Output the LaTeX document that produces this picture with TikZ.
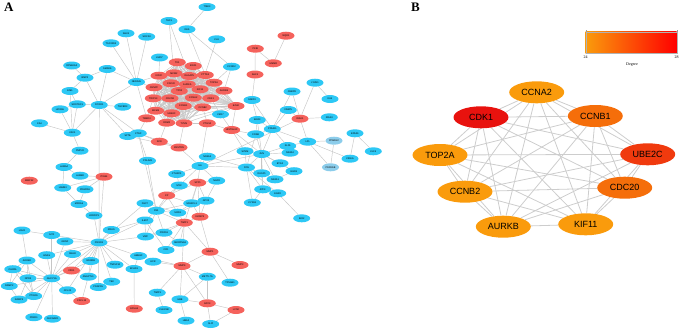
\documentclass[tikz,border=0pt]{standalone}
\usepackage{fontspec}
\setmainfont{Liberation Serif}
\setsansfont{Liberation Sans}
\usetikzlibrary{shapes.geometric, backgrounds}

\definecolor{upblue}{RGB}{45,200,245}
\definecolor{downred}{RGB}{245,98,92}
\definecolor{paleblue}{RGB}{140,205,235}
\definecolor{linkgray}{RGB}{198,198,198}
\definecolor{hubgray}{RGB}{205,205,205}
\definecolor{deg24}{RGB}{250,155,12}
\definecolor{deg26}{RGB}{245,110,10}
\definecolor{deg27}{RGB}{240,58,14}
\definecolor{deg28}{RGB}{232,18,14}

% cell-cycle core of panel A (fully meshed)
\def\corelist{TK1,EXO1,KIF2C,MCM2,DLGAP5,PTTG1,CENPF,CDC20,AURKA,TOP2A,TPX2,KIF11,AURKB,TRIP13,CDKN3,CCNA2,CDK1,MCM4,CCNB1,CCNB2,UBE2C,RRM2,TYMS,EZH2}
\def\hublist{hCCNA2,hCCNB1,hUBE2C,hCDC20,hKIF11,hAURKB,hCCNB2,hTOP2A,hCDK1}

\begin{document}
\begin{tikzpicture}[x=1pt, y=-1pt,
  gene/.style={ellipse, minimum width=17pt, minimum height=8pt, inner sep=0pt,
    font=\sffamily\fontsize{2.4}{2.4}\selectfont},
  up/.style={gene, fill=upblue},
  down/.style={gene, fill=downred},
  pale/.style={gene, fill=paleblue},
  hub/.style={ellipse, minimum width=55pt, minimum height=22pt, inner sep=0pt,
    font=\sffamily\fontsize{9}{10}\selectfont},
  link/.style={draw=linkgray, line width=0.45pt},
  hublink/.style={draw=hubgray, line width=0.8pt},
  panel/.style={font=\bfseries\fontsize{13}{13}\selectfont, anchor=north west, inner sep=0pt},
  tick/.style={font=\fontsize{4}{4}\selectfont, inner sep=0pt},
]
  \useasboundingbox (0,0) rectangle (679,330);

  \node[panel] (labA) at (4,3) {A};
  \node[panel] (labB) at (411,3) {B};

  % panel A: down-regulated genes
  \foreach \n/\x/\y in {TK1/177.3/62.3, EXO1/193.3/66, KIF2C/159/75.7, MCM2/174/73.3,
      DLGAP5/189.3/76, PTTG1/205.3/75, CENPF/154/87.3, CDC20/171/83.3,
      AURKA/187.3/84.3, TOP2A/214/82.7, TPX2/179.3/91, KIF11/200/89.3,
      AURKB/224/90.7, TRIP13/153.3/98.3, CDKN3/170/98.3, CCNA2/193.3/97.7,
      CDK1/210.7/98.3, MCM4/155.7/110.7, CCNB1/183.3/106, CCNB2/202.7/107.3,
      EZH2/236/106, UBE2C/171.7/113.3, TMED3/146.7/118.3, RRM2/166.7/122.7,
      TYMS/184/123.3, PTGS2/207.3/123.3, HIST1H4C/231.7/130, SFN/159.3/141.7,
      KNSTRN/179/147.5, SHC1/255/74.5, PKIB/255.3/48.7, HMMR/273.3/63.3,
      NQO1/286/35.7, IRAK1/300/118.7, SPP1/197.7/182.7, CP/166.7/195.5,
      IGFBP3/200/216.7, TIMP1/184.3/222.7, MMP1/210/251.7, MMP3/240/265,
      MMP9/182/266, GPC3/207.3/303.3, LCN2/236/310, ITGB4/104/176.7,
      MMP12/29.3/180.7, FZD1/71.5/270.5, CXCL13/81.7/301, EPHA4/134.3/308.7}
    \node[down] (\n) at (\x,\y) {\n};

  % panel A: up-regulated genes
  \foreach \n/\x/\y in {TNNI3/207/7, TAC1/169/21, DES/187/29.3, CLU/216.7/39.3,
      SGK1/126/33.3, SOCS3/146.7/36.7, TSC22D3/111/43.3, LMO7/159.5/57.5,
      CCND2/231.5/66.7, RPS6KA2/71.7/65.5, SMAD6/107.3/69, BMP2/85/77.7,
      NEDD4L/136.5/82, ENG/70/91, FOXO1/99.3/105, SOSTDC1/77.3/104.3,
      HOXA5/60/109.3, TGFBR3/122.7/106.7, CA4/39.5/123.3, CAV1/72.3/132.7,
      SPTB/127.7/136, CTGF/138.3/133.3, PMP22/80/150.7, CBX7/220.5/114.3,
      FABP4/252/100, CEBPD/292/91.5, LYVE1/315/82.7, KLB/330/99,
      FABP5/288.3/110, IRAK3/329.3/117.3, EGR3/257.3/120, PPARG/272.3/129,
      FOSB/255.7/134.3, LPL/307.7/141.7, EPAS1/355/133.3, KLF4/373.3/151.3,
      CIDEA/350/158.7, KLF5/287.7/146, NR4A2/290/152.7, SYNM/245/151.2,
      JUN/261.7/154, FOS/246.5/167.5, DUSP1/261.7/173.3, BTG2/280/163.3,
      EGR1/294/171.2, NR4A1/275/179.3, ATF3/262.7/189.3, EGR2/277.7/193.3,
      CYR61/252.3/202.7, IER2/301.7/218.3, NR4A3/207.3/156.7, IL6/200/166,
      CTHRC1/176.7/174, NGFR/216.7/180.7, MYC/179.3/185.5, SPARCL1/191.7/203.3,
      GPX3/206/200.7, FN1/156.3/210.8, SOD3/177.7/212.7, FGF7/145/203.3,
      IL6ST/145/220.5, VWF/145.5/236.5, PROS1/164/232.7, SERPINA3/180/242.7,
      CFD/166/250, HBEGF/138.5/256, LIFR/153/261.7, EFHD1/134/269,
      METTL7A/207.3/276.7, TPSAB1/230/282.7, TIMP3/157.3/292.7, HBB/180/299.3,
      CLEC3B/164/310, HBA2/186/320.7, SLPI/210.7/324, PDLIM3/147.5/160.8,
      LAMA4/64/167, LAMB2/80/175.7, LAMB3/62.7/187.7, PDGFRA/85/189.3,
      MXRA5/79/204, LRRFIP1/94/215.5, RRAS/111.3/230, PIK3R1/99/242.5,
      LDLR/22/230.5, IL7R/51.7/235, GDNF/65/241.5, ADRB2/27/260.5,
      GNAS/46.7/255.2, SNAI2/72.5/254, EDNRB/90.7/261, TNFSF10/115/264.7,
      GUCY1A/51.7/278.3, CHODL/12.8/269.2, NPR3/28/278.3, RAMP2/9.3/286,
      PTGDS/33.7/296, RAMP3/19/299.6, CCL21/67.5/290.3, ANGPTL1/88.3/276.7,
      PDGFRL/98.3/287, TEK/111.7/281.7, PRKD1/33.8/317.2, CACNA2D/52.5/318.7}
    \node[up] (\n) at (\x,\y) {\n};

  \foreach \n/\x/\y in {PPARGC/334/140.7, PPARGB/330.5/167.3}
    \node[pale] (\n) at (\x,\y) {\n};

  % panel B: hub genes
  \foreach \n/\x/\y/\t/\c in {hCCNA2/536.7/92.3/CCNA2/deg24, hCDK1/481/117.3/CDK1/deg28,
      hCCNB1/595.3/116/CCNB1/deg26, hTOP2A/440/155/TOP2A/deg24,
      hUBE2C/647.7/154.3/UBE2C/deg27, hCCNB2/465/191.7/CCNB2/deg24,
      hCDC20/624.7/187.7/CDC20/deg26, hAURKB/503.3/226.7/AURKB/deg24,
      hKIF11/585.7/224.3/KIF11/deg24}
    \node[hub, fill=\c] (\n) at (\x,\y) {\t};

  % degree legend
  \shade[left color=deg24, right color=red, draw=black!30, line width=0.3pt]
    (585.7,31.7) rectangle (676.7,53.3);
  \draw[black!40, line width=0.3pt] (585.7,31.7) -- (585.7,30.2);
  \draw[black!40, line width=0.3pt] (676.7,31.7) -- (676.7,30.2);
  \node[tick] (lo) at (585.7,57.5) {24};
  \node[tick] (hi) at (676.7,57.5) {28};
  \node[tick] (deg) at (632,65) {Degree};

  \begin{scope}[on background layer]
    \foreach \a [count=\i] in \corelist {
      \foreach \b [count=\j] in \corelist {
        \ifnum\i<\j \draw[link] (\a) -- (\b); \fi
      }
    }
    \foreach \a/\b in {TNNI3/DES, TAC1/DLGAP5, TAC1/MCM2, DES/PTTG1, DES/CCND2,
        CLU/KIF11, SGK1/NEDD4L, TSC22D3/NEDD4L, SOCS3/NEDD4L, LMO7/KIF2C,
        RPS6KA2/BMP2, SMAD6/BMP2, SMAD6/NEDD4L, SMAD6/FOXO1, BMP2/FOXO1, BMP2/ENG,
        ENG/SOSTDC1, ENG/CAV1, HOXA5/SOSTDC1, HOXA5/CAV1, SOSTDC1/FOXO1,
        SOSTDC1/CAV1, CA4/CAV1, CAV1/FOXO1, CAV1/PMP22, FOXO1/NEDD4L,
        FOXO1/TGFBR3, FOXO1/SPTB, FOXO1/CTGF, FOXO1/PIK3R1, NEDD4L/KIF2C,
        NEDD4L/CENPF, NEDD4L/TMED3, CTGF/SPTB, CTGF/TMED3, CTGF/SFN, CTGF/KNSTRN,
        SPTB/KNSTRN, TMED3/TRIP13, TMED3/MCM4, SFN/RRM2, KNSTRN/TYMS,
        PMP22/LAMA4, CTGF/FN1, PDLIM3/FN1, PDLIM3/CTGF,
        LAMA4/LAMB2, LAMA4/LAMB3, LAMB2/ITGB4, LAMB3/ITGB4, PDGFRA/ITGB4,
        LAMB3/MXRA5, PDGFRA/MXRA5, MXRA5/LRRFIP1, LRRFIP1/PIK3R1, ITGB4/PIK3R1,
        PIK3R1/RRAS, PIK3R1/GDNF, PIK3R1/IL7R, PIK3R1/SNAI2, PIK3R1/FZD1,
        PIK3R1/EDNRB, PIK3R1/TNFSF10, PIK3R1/ANGPTL1, PIK3R1/PDGFRL, PIK3R1/TEK,
        PIK3R1/GUCY1A, PIK3R1/EFHD1, PIK3R1/VWF, PIK3R1/HBEGF, PIK3R1/IL6ST,
        PIK3R1/FGF7, PIK3R1/GNAS, PIK3R1/CCL21, RRAS/IL6ST,
        GUCY1A/ADRB2, GUCY1A/CHODL, GUCY1A/NPR3, GUCY1A/RAMP2, GUCY1A/RAMP3,
        GUCY1A/PTGDS, GUCY1A/PRKD1, GUCY1A/CACNA2D, GUCY1A/CCL21, GUCY1A/GNAS,
        GUCY1A/SNAI2, GUCY1A/GDNF, GUCY1A/FZD1, GUCY1A/EDNRB, GUCY1A/IL7R,
        LDLR/ADRB2, LDLR/IL7R, IL7R/GDNF, ADRB2/CHODL, ADRB2/NPR3, ADRB2/RAMP2,
        ADRB2/PTGDS, CHODL/NPR3, CHODL/RAMP2, CHODL/PTGDS, NPR3/RAMP3,
        NPR3/PTGDS, RAMP2/RAMP3, RAMP3/PTGDS, CCL21/CXCL13, ANGPTL1/CXCL13,
        EDNRB/ANGPTL1, EFHD1/EPHA4, EFHD1/HBEGF,
        FGF7/FN1, FGF7/SOD3, FN1/SOD3, FN1/TIMP1, FN1/MYC, FN1/SPARCL1,
        FN1/IL6ST, FN1/VWF, FN1/PROS1, FN1/CP, SOD3/SPARCL1, SOD3/GPX3,
        SOD3/TIMP1, SOD3/CP, TIMP1/SPP1, TIMP1/IGFBP3, TIMP1/MMP1, TIMP1/MMP9,
        TIMP1/PROS1, TIMP1/SERPINA3, TIMP1/CFD, TIMP1/VWF, SPP1/IGFBP3,
        SPP1/GPX3, SPP1/MYC, SPP1/CP, SPP1/IL6, SPP1/SPARCL1, MYC/CP, MYC/IL6,
        MYC/CTHRC1, CTHRC1/IL6, NGFR/IL6, NGFR/SPP1, NGFR/GPX3, GPX3/SPARCL1,
        IGFBP3/GPX3, IGFBP3/MMP1, IGFBP3/SPARCL1, PROS1/SERPINA3, PROS1/VWF,
        CFD/SERPINA3, CFD/IL6ST, IL6ST/VWF, CP/SPARCL1, LIFR/MMP9, HBEGF/MMP9,
        MMP1/MMP9, MMP1/MMP3, MMP1/TPSAB1, MMP9/METTL7A, MMP9/TIMP3, MMP9/HBB,
        MMP9/GPC3, METTL7A/HBB, METTL7A/GPC3, HBB/GPC3, HBB/HBA2, GPC3/LCN2,
        GPC3/SLPI, LCN2/SLPI, TIMP3/CLEC3B,
        IL6/KNSTRN, IL6/NR4A3, IL6/JUN, IL6/FOS, IL6/IRAK1, IL6/PTGS2,
        PKIB/HMMR, NQO1/HMMR, PKIB/SHC1, SHC1/FABP4, FABP4/PPARG, FABP4/EGR3,
        HIST1H4C/CBX7, HIST1H4C/PTGS2, HIST1H4C/JUN, HIST1H4C/FOSB,
        HIST1H4C/SYNM, HIST1H4C/EZH2, CBX7/EZH2, CBX7/CDK1, PTGS2/TYMS,
        PTGS2/CCNB2, CCND2/TOP2A, CCND2/AURKB,
        PPARG/FABP5, PPARG/LPL, PPARG/CEBPD, PPARG/KLF5, PPARG/JUN, PPARG/FOSB,
        PPARG/EGR3, FABP5/IRAK1, LPL/PPARGC, LPL/IRAK1, LPL/KLF5, LPL/CIDEA,
        LPL/PPARGB, PPARGC/PPARGB, EPAS1/KLF4, EPAS1/CIDEA, IRAK1/LYVE1,
        LYVE1/KLB, IRAK1/IRAK3, IRAK1/CEBPD,
        JUN/FOS, JUN/FOSB, JUN/ATF3, JUN/DUSP1, JUN/EGR1, JUN/BTG2, JUN/NR4A1,
        JUN/SYNM, JUN/EGR3, JUN/KLF5, JUN/NR4A2, FOS/FOSB, FOS/DUSP1, FOS/ATF3,
        FOS/CYR61, FOS/SYNM, FOS/EGR2, FOSB/EGR3, ATF3/EGR2, EGR2/IER2,
        DUSP1/NR4A1, DUSP1/ATF3, NR4A1/EGR1, BTG2/EGR1, NR4A2/KLF5,
        CYR61/ATF3, FOS/NR4A3}
      \draw[link] (\a) -- (\b);

    \foreach \a [count=\i] in \hublist {
      \foreach \b [count=\j] in \hublist {
        \ifnum\i<\j \draw[hublink] (\a) -- (\b); \fi
      }
    }
  \end{scope}
\end{tikzpicture}
\end{document}
